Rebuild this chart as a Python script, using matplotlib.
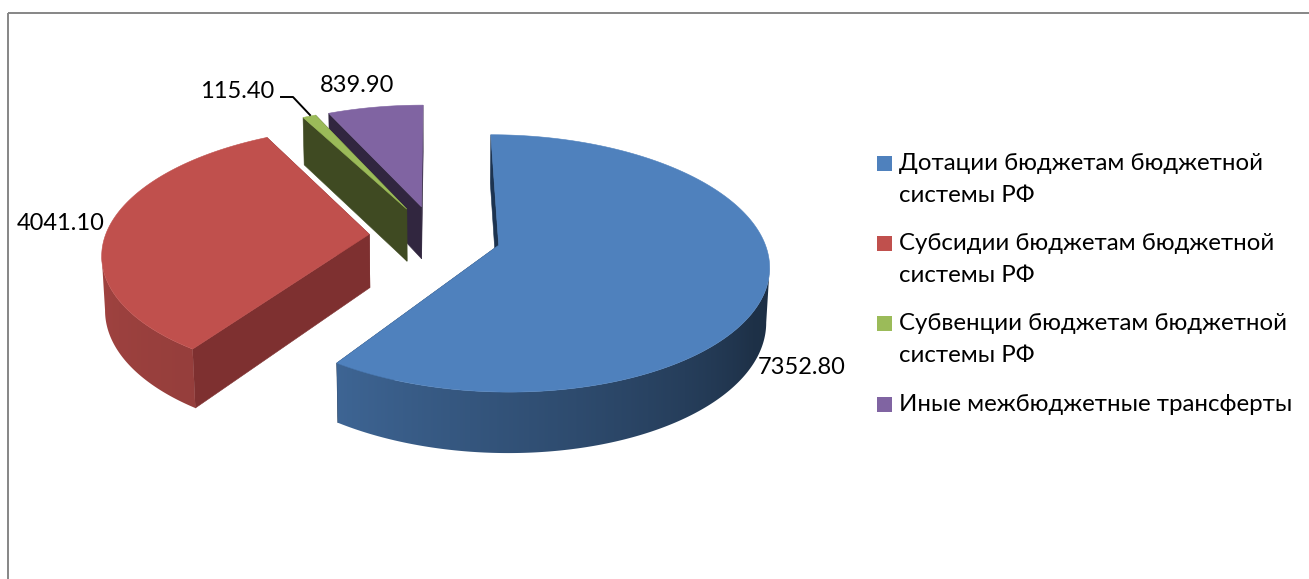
import numpy as np
import matplotlib
matplotlib.use("Agg")
import matplotlib.pyplot as plt
from matplotlib.patches import Polygon, Rectangle

categories = ["Дотации бюджетам бюджетной\nсистемы РФ",
              "Субсидии бюджетам бюджетной\nсистемы РФ",
              "Субвенции бюджетам бюджетной\nсистемы РФ",
              "Иные межбюджетные трансферты"]
values = [7352.80, 4041.10, 115.40, 839.90]
top_colors = ["#4f81bd", "#c0504d", "#9bbb59", "#8064a2"]
cut_colors = ["#1c3350", "#7e3030", "#3f4a22", "#31263f"]

W, H = 1309, 579
plt.rcParams['font.family'] = ['Lato', 'Open Sans', 'DejaVu Sans']
FS_LABEL = 17.0
FS_LEG = 17.25

fig = plt.figure(figsize=(W / 100, H / 100), dpi=100)
ax = fig.add_axes([0, 0, 1, 1])
ax.set_xlim(0, W)
ax.set_ylim(H, 0)
ax.axis("off")
ax.set_autoscale_on(False)

# projection of the tilted, perspective pie onto the canvas
VX, VY, A, B, K, M, D = 435.0, 236.0, 264.0, 123.5, 0.14, 0.01, 54.0
EXPLODE = 0.25


def project(u, v, h=0.0):
    w = 1 + K * v + M * h
    return VX + A * u / w, VY + (-B * v + D * h) / w


def shade(theta):
    return np.interp(theta, [90, 120, 214, 270], [0.35, 0.38, 0.78, 0.85])


fractions = np.array(values) / sum(values)
edges = np.concatenate([[0], np.cumsum(fractions) * 360])
z = 2
order = [3, 2, 1, 0]
for i in order:
    t0, t1 = edges[i], edges[i + 1]
    mid = np.radians((t0 + t1) / 2)
    u0, v0 = EXPLODE * np.sin(mid), EXPLODE * np.cos(mid)
    th = np.linspace(t0, t1, max(int((t1 - t0) * 2), 4))
    rad = np.radians(th)
    us, vs = u0 + np.sin(rad), v0 + np.cos(rad)

    # cut faces: the far one first, then the near one
    for end in (t1, t0):
        r = np.radians(end)
        ue, ve = u0 + np.sin(r), v0 + np.cos(r)
        face = [project(u0, v0), project(ue, ve), project(ue, ve, 1), project(u0, v0, 1)]
        ax.add_patch(Polygon(face, closed=True, fc=cut_colors[i], ec=cut_colors[i], lw=0.4, zorder=z))
        z += 1

    # outer wall: the rim between its left and right silhouette points, with a smooth gradient
    front = np.where(np.cos(rad) < 0.25)[0]
    if front.size > 2:
        xs_front = project(us[front], vs[front])[0]
        lo, hi = front[np.argmax(xs_front)], front[np.argmin(xs_front)]
        sel = np.arange(lo, hi + 1)
        base = np.array(matplotlib.colors.to_rgb(top_colors[i]))
        upper = [project(us[k], vs[k]) for k in sel]
        lower = [project(us[k], vs[k], 1) for k in sel]
        outline = upper + lower[::-1]
        xs_all = np.array([p[0] for p in outline])
        xs = np.array([p[0] for p in upper])
        idx = np.argsort(xs)
        grid = np.linspace(xs_all.min() - 8, xs_all.max() + 8, 400)
        f = np.interp(grid, xs[idx], shade(th[sel])[idx])
        img = np.outer(f, base)[None, :, :]
        im = ax.imshow(img, extent=(grid[0], grid[-1], H, 0), aspect="auto",
                       interpolation="bilinear", zorder=z)
        clip = Polygon(outline, closed=True, transform=ax.transData, fc="none", ec="none")
        ax.add_patch(clip)
        im.set_clip_path(clip)
    z += 1

    # top face
    top = [project(u0, v0)] + [project(a, b) for a, b in zip(us, vs)]
    ax.add_patch(Polygon(top, closed=True, fc=top_colors[i], ec=top_colors[i], lw=0.4, zorder=z))
    z += 1

# frame of the chart area, running off the canvas
ax.add_patch(Rectangle((8, 12.5), W + 50, H + 50, fc="none", ec="#868686", lw=1.4, zorder=1))

# data labels
label_pos = [(801.5, 368), (60.5, 224), (237.5, 91.5), (357, 86)]
for val, (x, y) in zip(values, label_pos):
    ax.text(x, y, f"{val:.2f}", ha="center", va="center", fontsize=FS_LABEL, color="black", zorder=z)
ax.plot([281, 293, 310], [97, 97, 115], color="black", lw=1.4, zorder=z)

# legend
leg_y = [163.5, 243.5, 323.5, 404.5]
line_gap = 32.5
for name, col, y in zip(categories, top_colors, leg_y):
    ax.add_patch(Rectangle((877, y - 7.5), 15, 15, fc=col, ec="none", zorder=z))
    for j, line in enumerate(name.split("\n")):
        ax.text(899, y + j * line_gap, line, ha="left", va="center", fontsize=FS_LEG, color="black", zorder=z)

ax.set_xlim(0, W)
ax.set_ylim(H, 0)
fig.savefig("out.png", dpi=100, facecolor="white")
